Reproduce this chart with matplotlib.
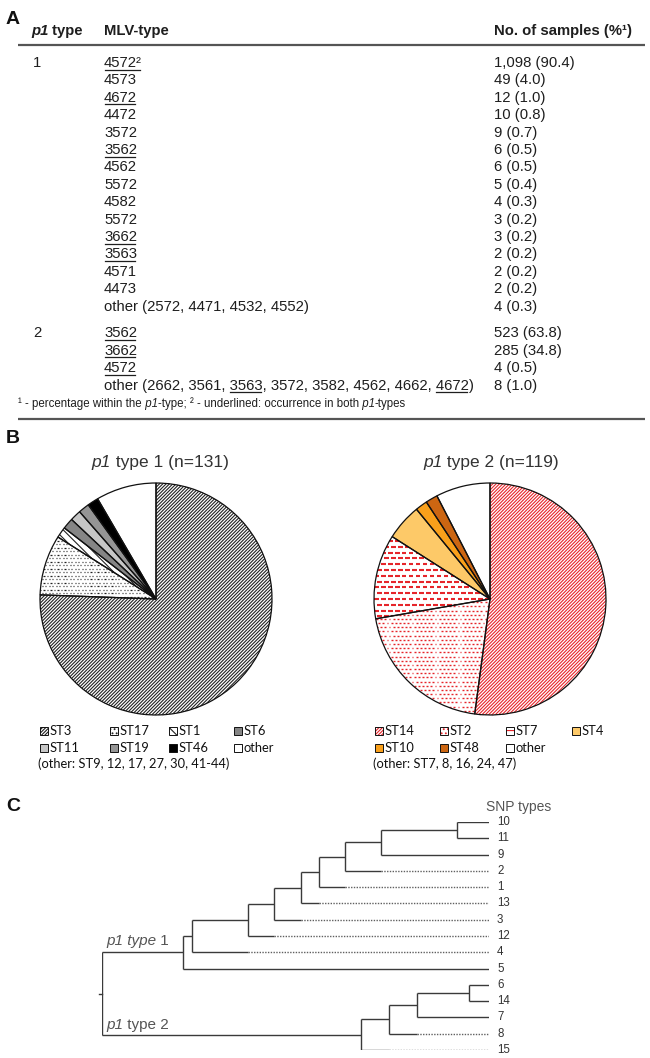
import matplotlib
matplotlib.use('Agg')
import matplotlib.pyplot as plt
from matplotlib.patches import Rectangle
from matplotlib.collections import LineCollection

plt.rcParams['font.family'] = ['Liberation Sans', 'DejaVu Sans']
plt.rcParams['hatch.linewidth'] = 0.8

# ---------------- data ----------------
p1_types = ['1'] * 15 + ['2'] * 4
mlv_types = ['4572', '4573', '4672', '4472', '3572', '3562', '4562', '5572', '4582',
             '5572', '3662', '3563', '4571', '4473', 'other (2572, 4471, 4532, 4552)',
             '3562', '3662', '4572',
             'other (2662, 3561, 3563, 3572, 3582, 4562, 4662, 4672)']
n_samples = [1098, 49, 12, 10, 9, 6, 6, 5, 4, 3, 3, 2, 2, 2, 4, 523, 285, 4, 8]
pct_samples = [90.4, 4.0, 1.0, 0.8, 0.7, 0.5, 0.5, 0.4, 0.3, 0.2, 0.2, 0.2, 0.2, 0.2, 0.3,
               63.8, 34.8, 0.5, 1.0]
underlined = ['4572', '4672', '3562', '3662', '3563']

pie1_labels = ['ST3', 'ST17', 'ST1', 'ST6', 'ST11', 'ST19', 'ST46', 'other']
pie1_values = [99, 11, 2, 2, 2, 2, 2, 11]
pie2_labels = ['ST14', 'ST2', 'ST7', 'ST4', 'ST10', 'ST48', 'other']
pie2_values = [62, 24, 14, 6, 2, 2, 9]

leaf_order = ['10', '11', '9', '2', '1', '13', '3', '12', '4', '5', '6', '14', '7', '8', '15']
leaf_depth = [1.0, 1.0, 1.0, 0.722, 0.629, 0.562, 0.515, 0.445, 0.379, 1.0,
              1.0, 1.0, 1.0, 0.815, 0.742]
tree_nodes = {
    'I': (0.918, ['10', '11']),
    'H': (0.722, ['I', '9']),
    'G': (0.629, ['H', '2']),
    'F': (0.562, ['G', '1']),
    'E': (0.515, ['F', '13']),
    'D': (0.445, ['E', '3']),
    'C': (0.379, ['D', '12']),
    'B': (0.233, ['C', '4']),
    'A': (0.210, ['B', '5']),
    'M': (0.950, ['6', '14']),
    'L': (0.815, ['M', '7']),
    'K': (0.742, ['L', '8']),
    'J': (0.670, ['K', '15']),
    'root': (0.0, ['A', 'J']),
}

# ---------------- figure ----------------
W, H = 650, 1058
fig = plt.figure(figsize=(6.5, 10.58), dpi=100)
ov = fig.add_axes([0, 0, 1, 1])
ov.set_xlim(0, W)
ov.set_ylim(H, 0)
ov.axis('off')
renderer = fig.canvas.get_renderer()
TXT = '#1e1e1e'


def width_of(s, **kw):
    t = ov.text(0, 0, s, **kw)
    w = t.get_window_extent(renderer=renderer).width
    t.remove()
    return w


def runs(x, y, parts, ha='left', **base):
    widths = []
    for s, kw in parts:
        k = dict(base)
        k.update(kw)
        widths.append(width_of(s, **k))
    total = sum(widths)
    if ha == 'center':
        x -= total / 2
    for (s, kw), w in zip(parts, widths):
        k = dict(base)
        k.update(kw)
        ov.text(x, y, s, ha='left', va='baseline', **k)
        x += w
    return x


# ---------------- panel A: table ----------------
FS = 10.7
ov.text(6, 24, 'A', fontsize=14, fontweight='bold', va='baseline', color='#111')
hdr_y = 35
runs(31, hdr_y, [('p1', dict(style='italic')), (' type', {})], fontsize=FS,
     fontweight='bold', color=TXT)
ov.text(104, hdr_y, 'MLV-type', fontsize=FS, fontweight='bold', color=TXT, va='baseline')
ov.text(494, hdr_y, 'No. of samples (%¹)', fontsize=FS, fontweight='bold', color=TXT,
        va='baseline')
ov.plot([18, 645], [45, 45], color='#555', lw=1.6, solid_capstyle='butt')

prev_type = None
for i, (pt, mlv, n, p) in enumerate(zip(p1_types, mlv_types, n_samples, pct_samples)):
    if pt == '1':
        yc = 62 + 17.4 * i
    else:
        yc = 332 + 17.6 * (i - 15)
    yb = yc + 5
    base = dict(fontsize=FS, color=TXT)
    if pt != prev_type:
        ov.text(33, yb, pt, va='baseline', **base)
        prev_type = pt
    label = mlv + ('²' if i == 0 else '')
    ov.text(104, yb, label, va='baseline', **base)
    tokens = [mlv] if not mlv.startswith('other') else \
        mlv[mlv.index('(') + 1:-1].split(', ')
    start = 0
    for tok in tokens:
        idx = label.index(tok, start)
        start = idx + len(tok)
        if tok in underlined:
            seg = tok + ('²' if i == 0 else '')
            x_end = 104 + width_of(label[:idx] + seg, **base)
            x_start = x_end - width_of(seg, **base)
            ov.plot([x_start + 0.5, x_end - 2], [yb + 2.5, yb + 2.5], color=TXT, lw=0.9)
    ov.text(494, yb, f'{n:,} ({p:.1f})', va='baseline', **base)

runs(18, 407, [('¹ - percentage within the', {}), (' p1', dict(style='italic')),
               ('-type; ² - underlined: occurrence in both', {}),
               (' p1', dict(style='italic')), ('-types', {})],
     fontsize=8.3, color=TXT)
ov.plot([18, 645], [419, 419], color='#555', lw=1.6, solid_capstyle='butt')

# ---------------- panel B: pies ----------------
ov.text(6, 443, 'B', fontsize=14, fontweight='bold', va='baseline', color='#111')

RED = '#e6252a'
pie1_faces = ['white', 'white', 'white', '#858585', '#c6c6c6', '#959595', '#000000', 'white']
pie1_hatch = ['//////////', 'dots', '\\\\\\\\', None, None, None, None, None]
pie1_hcol = ['#222222', '#222222', '#222222', None, None, None, None, None]
pie2_faces = ['white', 'white', 'white', '#fdc968', '#f9a01b', '#cc6612', 'white']
pie2_hatch = ['//////////', 'dots', 'dashes', None, None, None, None]
pie2_hcol = [RED, RED, RED, None, None, None, None]
legend_hatch = {'dots': '....', 'dashes': '---'}


def dash_fill(ax, patch, color, row_gap, dash, gap, lw):
    segs = []
    y, r = -1.0, 0
    while y <= 1.0:
        x = -1.0 + (r % 2) * (dash + gap) / 2
        while x <= 1.0:
            segs.append([(x, y), (x + dash, y)])
            x += dash + gap
        y += row_gap
        r += 1
    lc = LineCollection(segs, colors=color, linewidths=lw, zorder=1.5)
    ax.add_collection(lc)
    lc.set_clip_path(patch)


def draw_pie(cx, cy, r, values, faces, hatches, hcols):
    ax = fig.add_axes([(cx - r) / W, 1 - (cy + r) / H, 2 * r / W, 2 * r / H])
    wedges, _ = ax.pie(values, colors=faces, startangle=90, counterclock=False,
                       wedgeprops=dict(linewidth=0))
    for w, h, hc in zip(wedges, hatches, hcols):
        if h == 'dots':
            if hc == RED:
                dash_fill(ax, w, hc, 0.036, 0.016, 0.020, 1.0)
            else:
                dash_fill(ax, w, hc, 0.030, 0.010, 0.020, 0.9)
        elif h == 'dashes':
            dash_fill(ax, w, hc, 0.050, 0.040, 0.020, 1.5)
        elif h:
            w.set_edgecolor(hc)
            w.set_hatch(h)
            w.set_linewidth(0)
    outl, _ = ax.pie(values, colors=faces, startangle=90, counterclock=False,
                     wedgeprops=dict(linewidth=0.9, edgecolor='#111111', fill=False))
    for w in outl:
        w.set_zorder(3)
    ax.set_xlim(-1, 1)
    ax.set_ylim(-1, 1)
    ax.set_aspect('equal')
    ax.axis('off')


draw_pie(156, 599, 116, pie1_values, pie1_faces, pie1_hatch, pie1_hcol)
draw_pie(490, 599, 116, pie2_values, pie2_faces, pie2_hatch, pie2_hcol)

title_kw = dict(fontsize=12.5, color='#333333')
runs(160, 467, [('p1', dict(style='italic')), (' type 1 (n=131)', {})], ha='center',
     **title_kw)
runs(491, 467, [('p1', dict(style='italic')), (' type 2 (n=119)', {})], ha='center',
     **title_kw)

LEG = dict(fontsize=9.3, family=['Lato', 'DejaVu Sans'], color='#111111')


def draw_legend(x_cols, y_rows, labels, faces, hatches, hcols, note, x_note, y_note):
    for k, (lab, fc, h, hc) in enumerate(zip(labels, faces, hatches, hcols)):
        x = x_cols[k % 4]
        y = y_rows[k // 4]
        hh = legend_hatch.get(h, h)
        rect = Rectangle((x, y - 4), 8, 8, facecolor=fc, edgecolor=hc if hh else '#111',
                         hatch=hh, lw=0.0 if hh else 0.7)
        ov.add_patch(rect)
        if hh:
            ov.add_patch(Rectangle((x, y - 4), 8, 8, fill=False, edgecolor='#111', lw=0.7))
        ov.text(x + 10, y + 4, lab, va='baseline', **LEG)
    ov.text(x_note, y_note, note, va='baseline', **LEG)


draw_legend([40, 110, 169, 234], [731, 748], pie1_labels, pie1_faces, pie1_hatch, pie1_hcol,
            '(other: ST9, 12, 17, 27, 30, 41-44)', 38, 768)
draw_legend([375, 440, 506, 572], [731, 748], pie2_labels, pie2_faces, pie2_hatch, pie2_hcol,
            '(other: ST7, 8, 16, 24, 47)', 373, 768)

# ---------------- panel C: tree ----------------
ov.text(6, 811, 'C', fontsize=14, fontweight='bold', va='baseline', color='#111')
y_top, y_bot = 822, 1050
x_root, x_end = 102, 488.5
tax = fig.add_axes([x_root / W, 1 - y_bot / H, (x_end - x_root) / W, (y_bot - y_top) / H])
tax.set_xlim(0, 1)
tax.set_ylim(len(leaf_order) - 1, 0)
tax.axis('off')

LC = '#3a3a3a'
pos = {name: (d, i) for i, (name, d) in enumerate(zip(leaf_order, leaf_depth))}


def place(name):
    if name in pos:
        return pos[name]
    d, kids = tree_nodes[name]
    ys = [place(k)[1] for k in kids]
    pos[name] = (d, sum(ys) / len(ys))
    return pos[name]


place('root')
for name, (d, kids) in tree_nodes.items():
    ys = [pos[k][1] for k in kids]
    tax.plot([d, d], [min(ys), max(ys)], color=LC, lw=1.0, solid_capstyle='butt')
    for k in kids:
        kd, ky = pos[k]
        tax.plot([d, kd], [ky, ky], color=LC, lw=1.0, solid_capstyle='butt')
for i, (name, d) in enumerate(zip(leaf_order, leaf_depth)):
    if d < 1.0:
        tax.plot([d, 1.0], [i, i], color='#606060', lw=1.0, ls=(0, (1, 1)))
    tax.text(1.022, i, name, fontsize=8.3, color='#333333', va='center', ha='left',
             family=['Liberation Sans Narrow', 'Liberation Sans'], clip_on=False)
ry = pos['root'][1]
tax.plot([-0.008, 0], [ry, ry], color=LC, lw=1.0, clip_on=False)

ov.text(486, 811, 'SNP types', fontsize=10, color='#555555', va='baseline')
runs(106, 945, [('p1 type', dict(style='italic')), (' 1', {})], fontsize=11,
     color='#555555')
runs(106, 1029, [('p1', dict(style='italic')), (' type 2', {})], fontsize=11,
     color='#555555')

fig.savefig('out.png', dpi=100)
